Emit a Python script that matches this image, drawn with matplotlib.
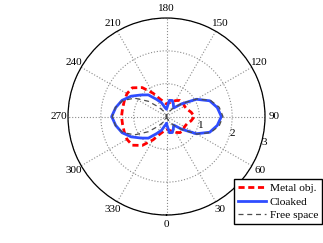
import numpy as np
import matplotlib.pyplot as plt

plt.rcParams['font.family'] = ['Liberation Serif', 'DejaVu Serif']
plt.rcParams['font.size'] = 8

# angles in degrees, 0 at bottom, counterclockwise
angles = [0, 10, 20, 30, 40, 50, 60, 70, 80, 90,
          100, 110, 120, 130, 140, 150, 160, 170, 180,
          190, 200, 210, 220, 230, 240, 250, 260, 270,
          280, 290, 300, 310, 320, 330, 340, 350, 360]

metal = [0.38, 0.42, 0.48, 0.56, 0.64, 0.66, 0.63, 0.66, 0.76, 0.85,
         0.76, 0.66, 0.63, 0.66, 0.64, 0.56, 0.48, 0.42, 0.38,
         0.45, 0.56, 0.82, 1.15, 1.36, 1.39, 1.37, 1.36, 1.37,
         1.36, 1.37, 1.39, 1.36, 1.15, 0.82, 0.56, 0.45, 0.38]

cloaked = [0.22, 0.50, 0.52, 0.42, 0.34, 0.60, 1.05, 1.40, 1.57, 1.67,
           1.57, 1.40, 1.05, 0.60, 0.34, 0.42, 0.52, 0.50, 0.22,
           0.28, 0.45, 0.60, 0.86, 1.02, 1.24, 1.44, 1.57, 1.67,
           1.57, 1.44, 1.24, 1.02, 0.86, 0.60, 0.45, 0.28, 0.22]

free = [0.0, 0.02, 0.08, 0.18, 0.36, 0.62, 1.07, 1.43, 1.63, 1.72,
        1.63, 1.43, 1.07, 0.62, 0.36, 0.18, 0.08, 0.02, 0.0,
        0.02, 0.08, 0.20, 0.38, 0.72, 1.12, 1.42, 1.58, 1.65,
        1.58, 1.42, 1.12, 0.72, 0.38, 0.20, 0.08, 0.02, 0.0]

labels = ["Metal obj.", "Cloaked", "Free space"]
th = np.deg2rad(angles)

fig = plt.figure(figsize=(3.23, 2.43), dpi=100)
ax = fig.add_axes([0.2105, 0.1152, 0.61, 0.8107], projection='polar')
ax.set_theta_zero_location('S')
ax.set_theta_direction(1)

ax.plot(th, metal, color='#ff0000', lw=2.0, ls=(0, (2.2, 1.3)), label=labels[0], zorder=3)
ax.plot(th, cloaked, color='#2f4dff', lw=2.0, label=labels[1], zorder=4)
ax.plot(th, free, color='0.3', lw=0.9, ls=(0, (4, 3)), label=labels[2], zorder=5)

ax.set_ylim(0, 3)
ax.set_rticks([1, 2, 3])
ax.set_rlabel_position(75)
for t in ax.get_yticklabels():
    t.set_ha('left')
    t.set_va('center')
ax.set_thetagrids(range(0, 360, 30), labels=[str(a) for a in range(0, 360, 30)])
ax.grid(True, color='0.55', ls=':', lw=0.8)
ax.spines['polar'].set_color('black')
ax.spines['polar'].set_linewidth(0.9)
ax.tick_params(axis='x', pad=-4)

fig.legend(loc='lower right', bbox_to_anchor=(0.997, 0.078), fancybox=False,
           edgecolor='black', framealpha=1, handlelength=2.5, labelspacing=0.3,
           borderpad=0.35, handletextpad=0.3, borderaxespad=0, fontsize=8.2)
fig.savefig('out.png', dpi=100)
